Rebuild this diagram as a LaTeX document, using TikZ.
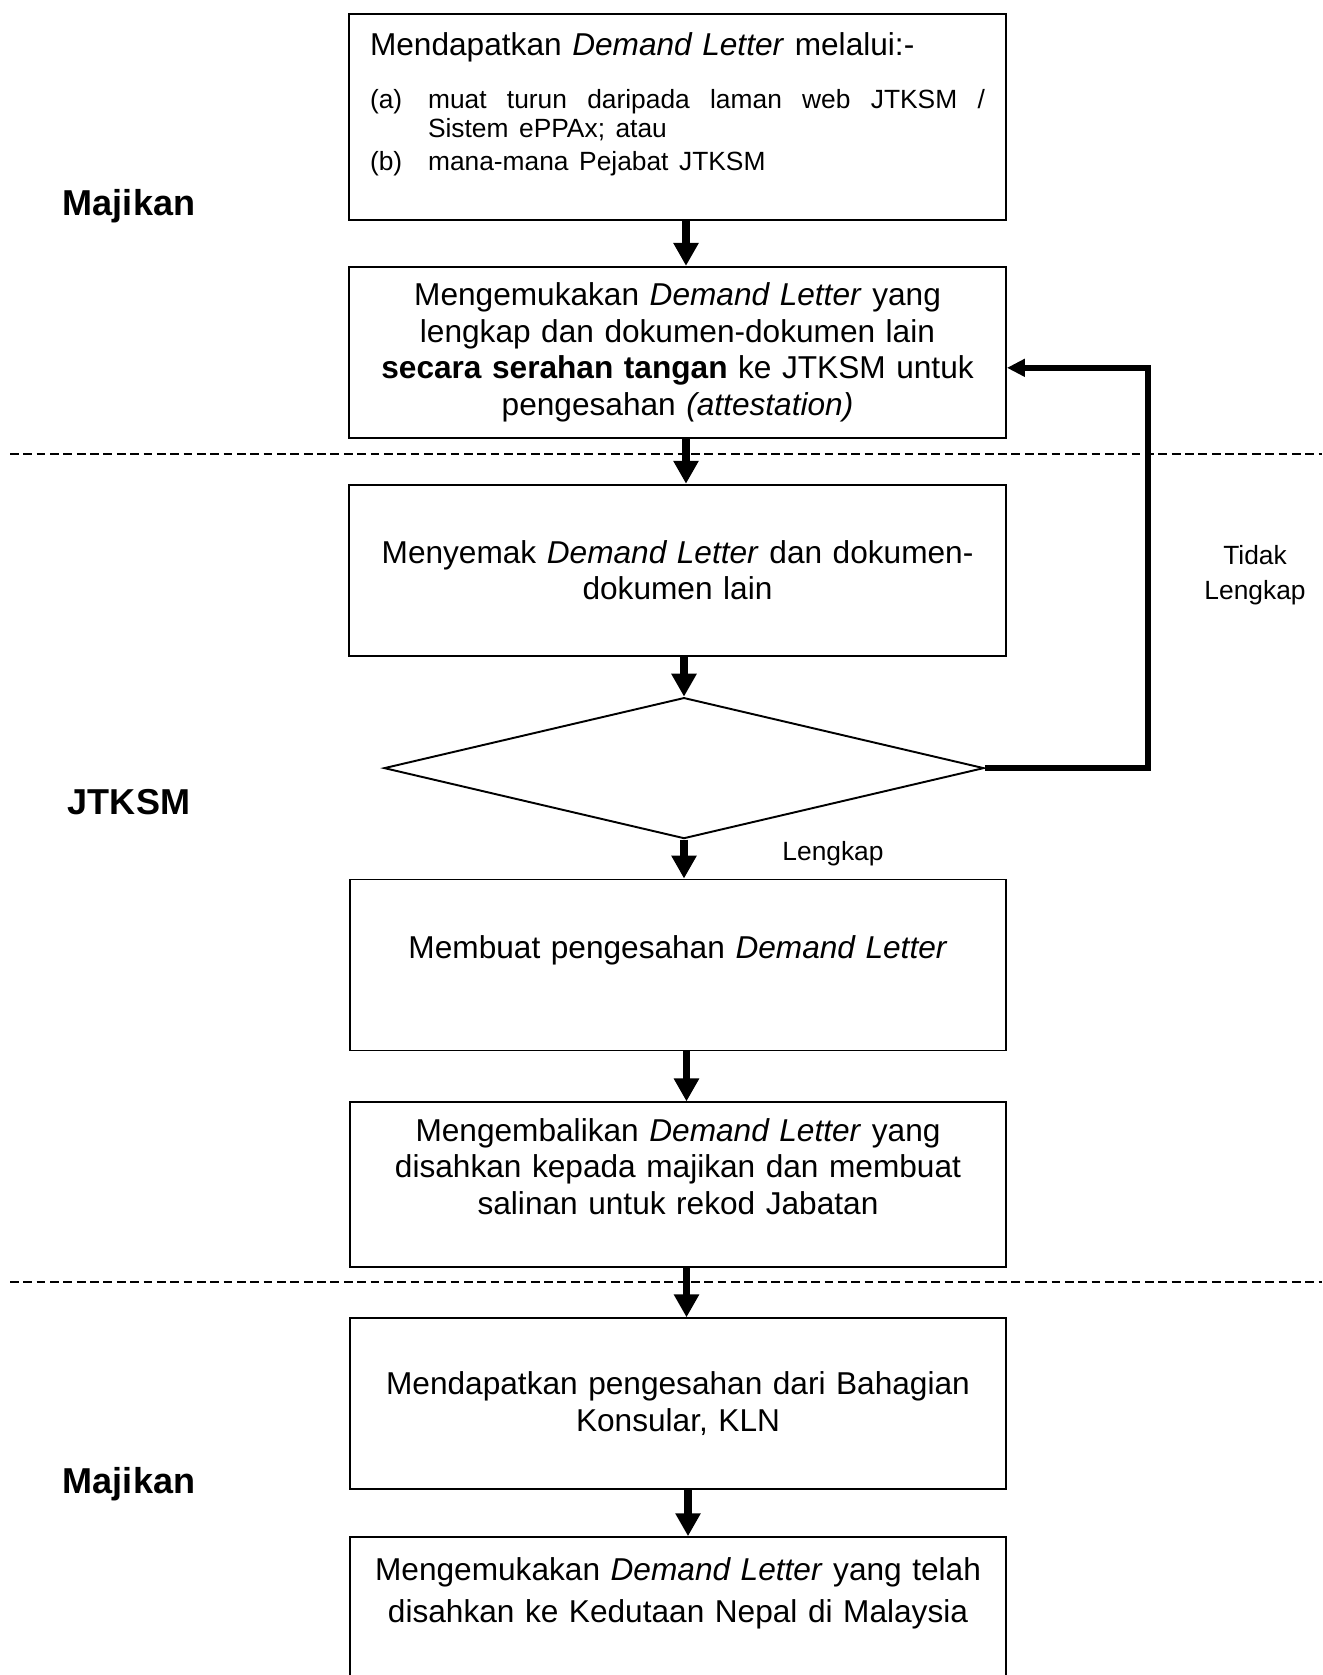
\documentclass[tikz,border=0pt]{standalone}
\usepackage{fontspec}
\setmainfont{Liberation Sans}
\usetikzlibrary{shapes.geometric, arrows.meta, positioning}

\begin{document}
\begin{tikzpicture}[
        x=0.02cm, y=-0.02cm,
        node distance=0.9cm,
        box/.style={rectangle, draw, line width=1.1pt, minimum width=13.14cm, text width=12.3cm, inner xsep=0.42cm, align=center, font=\fontsize{18}{21}\selectfont},
        decision/.style={diamond, draw, line width=1.1pt, minimum width=12cm, minimum height=2.82cm, inner sep=0pt},
        arrow/.style={-{Triangle[width=0.48cm,length=0.46cm]}, line width=4.4pt},
        backarrow/.style={-{Triangle[width=0.34cm,length=0.36cm]}, line width=3.6pt},
        lane/.style={font=\fontsize{20.5}{24}\selectfont\bfseries},
        note/.style={align=center, font=\fontsize{15}{19.8}\selectfont},
        divider/.style={dash pattern=on 5pt off 2.6pt, line width=0.75pt}
    ]
    \useasboundingbox (0,0) rectangle (1322,1675);
    \clip (0,0) rectangle (1322,1675);

    % Majikan
    \node (fetch) [box, anchor=north, inner ysep=0pt, minimum height=4.12cm] at (677.5,13) {%
        \begin{minipage}[t][4.12cm][t]{12.3cm}
        \rule{0pt}{0.84cm}Mendapatkan \textit{Demand Letter} melalui:-\par
        \vspace{0.46cm}
        {\fontsize{15}{16.6}\selectfont
        \makebox[1.16cm][l]{(a)}\hbox to 11.14cm{muat\hfill turun\hfill daripada\hfill laman\hfill web\hfill JTKSM\hfill /}\par
        \hspace*{1.16cm}Sistem ePPAx; atau\par
        \vspace{0.08cm}
        \makebox[1.16cm][l]{(b)}mana-mana Pejabat JTKSM\par}
        \end{minipage}};
    \node (submit) [box, below=of fetch, minimum height=3.42cm] {Mengemukakan \textit{Demand Letter} yang\\ lengkap dan dokumen-dokumen lain\\ \textbf{secara serahan tangan} ke JTKSM untuk\\ pengesahan \textit{(attestation)}};

    % JTKSM
    \node (check) [box, below=of submit, minimum height=3.42cm] {Menyemak \textit{Demand Letter} dan dokumen-\\dokumen lain};
    \node (decide) [decision, below=0.8cm of check, xshift=0.13cm] {};
    \node (attest) [box, below=0.78cm of decide, xshift=-0.12cm, minimum height=3.42cm] {Membuat pengesahan \textit{Demand Letter}\\ \mbox{}};
    \node (return) [box, below=1.0cm of attest, minimum height=3.3cm] {Mengembalikan \textit{Demand Letter} yang\\ disahkan kepada majikan dan membuat\\ salinan untuk rekod Jabatan\\ \mbox{}};

    % Majikan
    \node (consul) [box, below=0.98cm of return, minimum height=3.42cm] {Mendapatkan pengesahan dari Bahagian\\ Konsular, KLN};
    \node (embassy) [box, below=0.92cm of consul, minimum height=2.96cm, font=\fontsize{18}{23.8}\selectfont] {Mengemukakan \textit{Demand Letter} yang telah\\ disahkan ke Kedutaan Nepal di Malaysia\\ \mbox{}};

    % lanes
    \node (employer) [lane] at (129,206) {Majikan};
    \node (dept) [lane] at (129,802) {JTKSM};
    \node (employer2) [lane] at (129,1484) {Majikan};
    \draw[divider] (10,454) -- (1322,454);
    \draw[divider] (10,1282) -- (1322,1282);

    \node (notok) [note] at (1255,575) {Tidak\\ Lengkap};
    \node (ok) [note] at (833,854) {Lengkap};
    \coordinate (loop) at (1148,0);

    \draw[arrow] ([xshift=0.17cm]fetch.south) -- ([xshift=0.17cm]submit.north);
    \draw[arrow] ([xshift=0.17cm]submit.south) -- ([xshift=0.17cm]check.north);
    \draw[arrow] (check.south -| decide.north) -- (decide.north);
    \draw[arrow] (decide.south) -- (decide.south |- attest.north);
    \draw[arrow] ([xshift=0.17cm]attest.south) -- ([xshift=0.17cm]return.north);
    \draw[arrow] ([xshift=0.17cm]return.south) -- ([xshift=0.17cm]consul.north);
    \draw[arrow] ([xshift=0.2cm]consul.south) -- ([xshift=0.2cm]embassy.north);
    \draw[backarrow] (decide.east) -- (decide.east -| loop) |- ([yshift=-0.31cm]submit.east);
\end{tikzpicture}
\end{document}
